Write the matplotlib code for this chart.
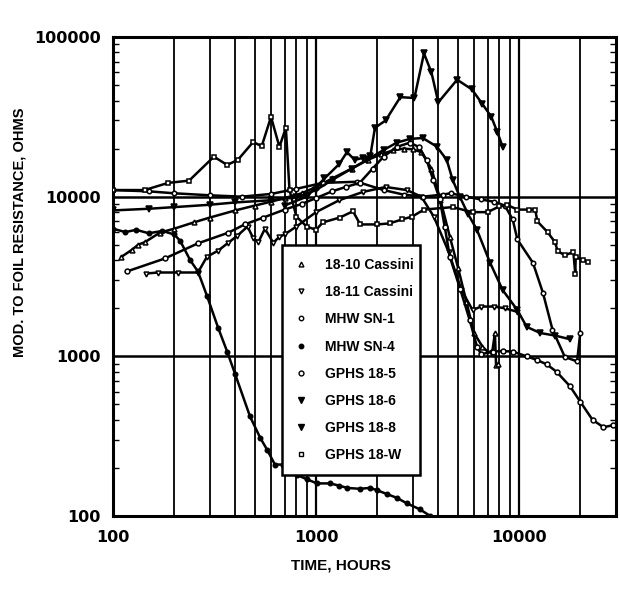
import matplotlib
matplotlib.use("Agg")
import matplotlib.pyplot as plt
from matplotlib.lines import Line2D
from matplotlib.ticker import LogLocator, NullFormatter, FixedLocator

# ---- data (hours, ohms) ----
cassini_1810_hours = [110, 124, 133, 144, 170, 200, 250, 300, 400, 500, 600, 700, 850, 1000, 1200,
                      1500, 1800, 2100, 2400, 2700, 3000, 3300, 3700, 4100, 4560, 5000, 5500, 6000,
                      6600, 7100, 7400, 7600, 7700, 7900]
cassini_1810_ohms = [4200, 4650, 5000, 5200, 5950, 6300, 6900, 7400, 8200, 8800, 9300, 9800, 10500,
                     11500, 13000, 15000, 17000, 18500, 19500, 20000, 19800, 19000, 15000, 9500, 5600,
                     3600, 2200, 1400, 1150, 1050, 1100, 1400, 880, 900]

cassini_1811_hours = [145, 167, 210, 262, 290, 330, 370, 410, 460, 490, 520, 560, 615, 660, 700, 800,
                      1000, 1300, 1700, 2200, 2800, 3300, 3800, 4500, 5200, 5900, 6500, 7500, 8500, 9800]
cassini_1811_ohms = [3300, 3350, 3350, 3350, 4200, 4600, 5150, 5700, 6500, 5500, 5200, 6300, 5150,
                     5600, 5800, 6500, 8000, 9500, 10700, 11500, 11000, 10000, 7500, 4500, 2600, 1950,
                     2050, 2050, 2000, 1900]

mhw_sn1_hours = [100, 150, 200, 300, 430, 600, 800, 1080, 1590, 2150, 2700, 3360, 4200, 4600, 5500,
                 6500, 7500, 8500, 9300, 9800, 11700, 13100, 14600, 16800, 19300, 20000]
mhw_sn1_ohms = [11000, 10800, 10500, 10200, 10000, 10400, 11200, 12200, 12400, 11000, 10300, 10000,
                10300, 10500, 10000, 9600, 9300, 8800, 7200, 5400, 3850, 2500, 1470, 990, 930, 1400]

mhw_sn4_hours = [100, 115, 130, 150, 175, 200, 214, 240, 262, 290, 330, 365, 400, 473, 530, 574, 627,
                 690, 750, 810, 900, 1010, 1170, 1300, 1420, 1640, 1840, 2000, 2240, 2500, 2800, 3250,
                 3650]
mhw_sn4_ohms = [6300, 6000, 6200, 5900, 6100, 5800, 5300, 4000, 3400, 2400, 1500, 1070, 770, 420, 310,
                260, 210, 210, 190, 180, 170, 160, 160, 155, 150, 148, 150, 145, 137, 130, 120, 110, 100]

gphs_185_hours = [117, 180, 262, 370, 445, 550, 700, 850, 1000, 1200, 1400, 1640, 1900, 2150, 2500,
                  2900, 3200, 3500, 3770, 4070, 4300, 4560, 5120, 5700, 6200, 6500, 7400, 8300, 9300,
                  10900, 12200, 13700, 15300, 17800, 20000, 23000, 26000, 29000]
gphs_185_ohms = [3400, 4100, 5100, 5950, 6700, 7400, 8300, 9000, 9800, 10800, 11500, 12200, 15000,
                 17800, 20500, 21800, 20500, 17000, 12800, 9600, 6500, 4200, 2650, 1700, 1150, 1030,
                 1070, 1080, 1070, 1000, 950, 890, 800, 650, 520, 400, 360, 370]

gphs_186_hours = [100, 150, 200, 300, 400, 600, 800, 1000, 1210, 1500, 1780, 2150, 2500, 2900, 3350,
                  3930, 4400, 4700, 5100, 5600, 6200, 7200, 8300, 9800, 10900, 12700, 15000, 17800]
gphs_186_ohms = [8200, 8400, 8600, 8900, 9200, 9500, 9900, 11000, 12800, 15000, 17000, 19600, 21800,
                 23000, 23300, 20600, 17000, 12800, 10000, 7800, 6200, 3850, 2600, 1950, 1530, 1400,
                 1350, 1280]

gphs_188_hours = [700, 900, 1100, 1300, 1420, 1550, 1700, 1850, 1950, 2200, 2600, 3050, 3400, 3700,
                  4000, 4950, 5850, 6600, 7300, 7800, 8300]
gphs_188_ohms = [8800, 10000, 13000, 16000, 19000, 17000, 17500, 18000, 27000, 30000, 42000, 41500,
                 79000, 60000, 39000, 54000, 47000, 38000, 31600, 25500, 20500]

gphs_18w_hours = [100, 143, 187, 237, 314, 365, 412, 490, 540, 600, 660, 710, 740, 800, 900, 1000,
                  1080, 1310, 1520, 1650, 2000, 2300, 2650, 2970, 3400, 4700, 5900, 7000, 8000, 8700,
                  9800, 11200, 12000, 12300, 13800, 15000, 15500, 16800, 18500, 18900, 19000, 20600,
                  21900]
gphs_18w_ohms = [11000, 11000, 12200, 12600, 17800, 15800, 17000, 22000, 20700, 31600, 20500, 27000,
                 11000, 7500, 6500, 6200, 6900, 7400, 8100, 6700, 6700, 6800, 7200, 7500, 8300, 8600,
                 8000, 8000, 8700, 8900, 8300, 8300, 8300, 7000, 6000, 5200, 4550, 4300, 4500, 3300,
                 4200, 4000, 3900]

series = [
    ("18-10 Cassini", cassini_1810_hours, cassini_1810_ohms, "^", "white", 3.5),
    ("18-11 Cassini", cassini_1811_hours, cassini_1811_ohms, "v", "white", 3.5),
    ("MHW SN-1", mhw_sn1_hours, mhw_sn1_ohms, "o", "white", 3.2),
    ("MHW SN-4", mhw_sn4_hours, mhw_sn4_ohms, "o", "black", 3.2),
    ("GPHS 18-5", gphs_185_hours, gphs_185_ohms, "o", "white", 3.5),
    ("GPHS 18-6", gphs_186_hours, gphs_186_ohms, "v", "black", 3.8),
    ("GPHS 18-8", gphs_188_hours, gphs_188_ohms, "v", "black", 4.2),
    ("GPHS 18-W", gphs_18w_hours, gphs_18w_ohms, "s", "white", 3.5),
]

fig = plt.figure(figsize=(6.2, 5.97), dpi=100)
ax = fig.add_axes([113 / 620, 1 - 516 / 597, 503 / 620, 479 / 597])

for label, hrs, ohms, mk, face, ms in series:
    ax.plot(hrs, ohms, color="black", lw=1.8, marker=mk, ms=ms,
            mfc=face, mec="black", mew=1.1, zorder=3)

ax.set_xscale("log")
ax.set_yscale("log")
ax.set_xlim(100, 30000)
ax.set_ylim(100, 100000)

# grid: thick major lines, thin vertical minor lines
ax.xaxis.set_major_locator(FixedLocator([100, 1000, 10000]))
ax.xaxis.set_minor_locator(LogLocator(base=10.0, subs=range(2, 10), numticks=20))
ax.xaxis.set_minor_formatter(NullFormatter())
ax.yaxis.set_major_locator(FixedLocator([100, 1000, 10000, 100000]))
ax.yaxis.set_minor_locator(LogLocator(base=10.0, subs=range(2, 10), numticks=20))
ax.yaxis.set_minor_formatter(NullFormatter())
ax.set_xticklabels(["100", "1000", "10000"])
ax.set_yticklabels(["100", "1000", "10000", "100000"])

ax.grid(True, axis="y", which="major", color="black", lw=1.8, zorder=1)
ax.grid(True, axis="x", which="major", color="black", lw=1.6, zorder=1)
ax.grid(True, axis="x", which="minor", color="black", lw=1.3, zorder=1)
ax.set_axisbelow(True)

for s in ax.spines.values():
    s.set_linewidth(2.2)

tick_font = dict(family="DejaVu Sans", weight="bold", size=11.5)
ax.tick_params(axis="x", which="both", length=0, pad=10)
ax.tick_params(axis="y", which="major", length=0, pad=9)
ax.tick_params(axis="y", which="minor", direction="in", length=4, width=1.0,
               left=True, right=True)
for t in ax.get_xticklabels() + ax.get_yticklabels():
    t.set_fontfamily(tick_font["family"])
    t.set_fontweight(tick_font["weight"])
    t.set_fontsize(tick_font["size"])

fig.text(20 / 620, 1 - 232 / 597, "MOD. TO FOIL RESISTANCE, OHMS", rotation=90,
         ha="center", va="center", family="Liberation Sans", weight="bold", size=10.5)
fig.text(341 / 620, 1 - 566 / 597, "TIME, HOURS", ha="center", va="center",
         family="Liberation Sans", weight="bold", size=11)

handles = [Line2D([], [], ls="none", marker=mk, ms=ms, mfc=face, mec="black", mew=1.0)
           for _, _, _, mk, face, ms in series]
labels = [s[0] for s in series]
leg = ax.legend(handles, labels, loc="lower left", bbox_to_anchor=(0.335, 0.086, 0.275, 0.463),
                mode="expand", frameon=True, fancybox=False, borderaxespad=0,
                handlelength=1.0, handletextpad=1.2, labelspacing=0.95, borderpad=0.9,
                prop=dict(family="Liberation Sans", weight="bold", size=10))
leg.get_frame().set_edgecolor("black")
leg.get_frame().set_linewidth(1.8)
leg.get_frame().set_facecolor("white")
leg.get_frame().set_alpha(1.0)
leg.set_zorder(5)

fig.savefig("out.png", dpi=100, facecolor="white")
